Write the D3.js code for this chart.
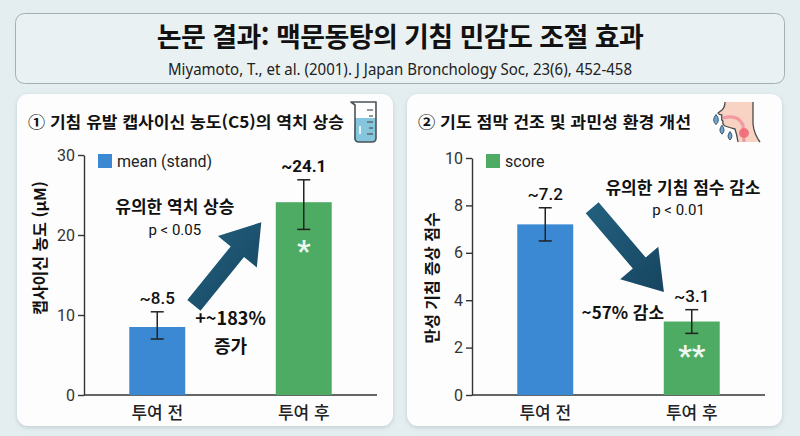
<!DOCTYPE html>
<html lang="ko">
<head>
<meta charset="UTF-8">
<script src="https://cdnjs.cloudflare.com/ajax/libs/d3/7.8.5/d3.min.js"></script>
<title>맥문동탕의 기침 민감도 조절 효과</title>
<style>
    html, body { margin: 0; padding: 0; background: #e4eef0; }
    svg { display: block; }
    .kr { font-family: "Noto Sans CJK KR", "Noto Sans", sans-serif; }
    .num { font-family: Roboto, "Noto Sans", sans-serif; }
    .axis text { font-family: Roboto, sans-serif; font-size: 16px; fill: #333; }
    .axis path, .axis line { stroke: #333; stroke-width: 1.4; }
</style>
</head>
<body>
<script>
    // 데이터
    const categories = ['투여 전', '투여 후'];
    const barColors = ['#3b89d3', '#4dab63'];

    const capsaicinMean = [8.5, 24.1];
    const capsaicinErrLow = [7.0, 20.7];
    const capsaicinErrHigh = [10.4, 26.9];
    const capsaicinLabels = ['~8.5', '~24.1'];
    const capsaicinTicks = [0, 10, 20, 30];

    const coughMean = [7.2, 3.1];
    const coughErrLow = [6.5, 2.6];
    const coughErrHigh = [7.9, 3.6];
    const coughLabels = ['~7.2', '~3.1'];
    const coughTicks = [0, 2, 4, 6, 8, 10];

    const title = '논문 결과: 맥문동탕의 기침 민감도 조절 효과';
    const subtitle = 'Miyamoto, T., et al. (2001). J Japan Bronchology Soc, 23(6), 452-458';

    const width = 800;
    const height = 436;

    const svg = d3.select('body').append('svg')
        .attr('width', width)
        .attr('height', height);

    const defs = svg.append('defs');

    const shadow = defs.append('filter').attr('id', 'shadow')
        .attr('x', '-5%').attr('y', '-5%').attr('width', '110%').attr('height', '115%');
    shadow.append('feDropShadow')
        .attr('dx', 0).attr('dy', 1.5).attr('stdDeviation', 2)
        .attr('flood-color', '#7d8f96').attr('flood-opacity', 0.35);

    const arrowGrad = defs.append('linearGradient').attr('id', 'arrowGrad')
        .attr('x1', 0).attr('y1', 0).attr('x2', 1).attr('y2', 1);
    arrowGrad.append('stop').attr('offset', '0%').attr('stop-color', '#23617f');
    arrowGrad.append('stop').attr('offset', '100%').attr('stop-color', '#164560');

    // 제목
    svg.append('rect')
        .attr('x', 15.5).attr('y', 13.5).attr('width', 769).attr('height', 70)
        .attr('rx', 9)
        .attr('fill', '#e9f1f2')
        .attr('stroke', '#a3afb4');

    svg.append('text')
        .attr('class', 'kr')
        .attr('x', 400).attr('y', 47)
        .attr('text-anchor', 'middle')
        .attr('font-size', 27)
        .attr('font-weight', 700)
        .attr('letter-spacing', -0.6)
        .attr('fill', '#111')
        .text(title);

    svg.append('text')
        .attr('x', 400).attr('y', 75)
        .attr('text-anchor', 'middle')
        .attr('font-family', '"Noto Sans", sans-serif')
        .attr('font-size', 16)
        .attr('fill', '#222')
        .attr('textLength', 464)
        .attr('lengthAdjust', 'spacingAndGlyphs')
        .text(subtitle);

    // 패널
    function drawPanel(opt) {
        const g = svg.append('g');

        g.append('rect')
            .attr('x', opt.px).attr('y', 94).attr('width', opt.pw).attr('height', 332)
            .attr('rx', 11)
            .attr('fill', '#fdfdfd')
            .attr('filter', 'url(#shadow)');

        g.append('text')
            .attr('class', 'kr')
            .attr('x', opt.px + 11).attr('y', 128)
            .attr('font-size', 16)
            .attr('font-weight', 700)
            .attr('fill', '#111')
            .attr('textLength', opt.titleLength)
            .attr('lengthAdjust', 'spacingAndGlyphs')
            .text(opt.title);

        const x = d3.scaleBand()
            .domain(categories)
            .range([opt.axisX, opt.axisX + 293])
            .paddingInner(0.618)
            .paddingOuter(0.309);

        const y = d3.scaleLinear()
            .domain([0, opt.yMax])
            .range([395, opt.yTop]);

        const step = x.step();
        const cx = function(i) { return x(categories[0]) + x.bandwidth() / 2 + i * step; };

        // 축
        g.append('g')
            .attr('class', 'axis')
            .attr('transform', 'translate(' + opt.axisX + ',0)')
            .call(d3.axisLeft(y).tickValues(opt.ticks).tickSize(6).tickSizeOuter(0).tickPadding(3));

        g.append('line')
            .attr('x1', opt.axisX).attr('x2', opt.axisX + 293)
            .attr('y1', y(0)).attr('y2', y(0))
            .attr('stroke', '#333').attr('stroke-width', 1.6);

        g.selectAll('.cat')
            .data(categories)
            .enter().append('text')
            .attr('class', 'kr')
            .attr('x', function(d) { return x(d) + x.bandwidth() / 2; })
            .attr('y', 419)
            .attr('text-anchor', 'middle')
            .attr('font-size', 17)
            .attr('font-weight', 500)
            .attr('fill', '#222')
            .text(function(d) { return d; });

        g.append('text')
            .attr('class', 'kr')
            .attr('transform', 'translate(' + opt.yTitleX + ',' + opt.yTitleY + ') rotate(-90)')
            .attr('text-anchor', 'middle')
            .attr('font-size', 16)
            .attr('font-weight', 700)
            .attr('fill', '#111')
            .text(opt.yTitle);

        // 범례
        g.append('rect')
            .attr('x', opt.axisX + 14).attr('y', 154)
            .attr('width', 14).attr('height', 14)
            .attr('fill', opt.legendColor);
        g.append('text')
            .attr('class', 'num')
            .attr('x', opt.axisX + 33).attr('y', 167)
            .attr('font-size', 16)
            .attr('fill', '#222')
            .text(opt.legend);

        // 막대
        g.selectAll('.bar')
            .data(opt.values)
            .enter().append('rect')
            .attr('x', function(d, i) { return x(categories[i]); })
            .attr('y', function(d) { return y(d); })
            .attr('width', x.bandwidth())
            .attr('height', function(d) { return y(0) - y(d); })
            .attr('fill', function(d, i) { return barColors[i]; });

        // 오차 막대
        const err = g.selectAll('.err')
            .data(opt.values)
            .enter().append('g')
            .attr('stroke', '#222')
            .attr('stroke-width', 1.5);
        err.append('line')
            .attr('x1', function(d, i) { return cx(i); })
            .attr('x2', function(d, i) { return cx(i); })
            .attr('y1', function(d, i) { return y(opt.errLow[i]); })
            .attr('y2', function(d, i) { return y(opt.errHigh[i]); });
        [opt.errLow, opt.errHigh].forEach(function(arr) {
            err.append('line')
                .attr('x1', function(d, i) { return cx(i) - 6.5; })
                .attr('x2', function(d, i) { return cx(i) + 6.5; })
                .attr('y1', function(d, i) { return y(arr[i]); })
                .attr('y2', function(d, i) { return y(arr[i]); });
        });

        // 값 라벨
        g.selectAll('.val')
            .data(opt.labels)
            .enter().append('text')
            .attr('class', 'num')
            .attr('x', function(d, i) { return cx(i); })
            .attr('y', function(d, i) { return y(opt.errHigh[i]) - 8; })
            .attr('text-anchor', 'middle')
            .attr('font-size', 17)
            .attr('font-weight', function(d, i) { return opt.boldLabel[i] ? 700 : 500; })
            .attr('fill', '#111')
            .text(function(d) { return d; });

        // 유의성 표시
        g.append('text')
            .attr('class', 'num')
            .attr('x', cx(1)).attr('y', y(opt.star[1]))
            .attr('dy', '0.55em')
            .attr('text-anchor', 'middle')
            .attr('font-size', 30)
            .attr('font-weight', 700)
            .attr('fill', '#ffffff')
            .attr('fill-opacity', 0.92)
            .text(opt.star[0]);

        // 화살표
        const a0 = [cx(opt.arrow[0][0]), y(opt.arrow[0][1])];
        const a1 = [cx(opt.arrow[1][0]), y(opt.arrow[1][1])];
        g.append('path')
            .attr('d', arrowPath(a0, a1, 17, 50, 38))
            .attr('fill', 'url(#arrowGrad)');

        // 주석
        opt.notes.forEach(function(n) {
            g.append('text')
                .attr('class', n.bold ? 'kr' : 'num')
                .attr('x', cx(n.at[0])).attr('y', y(n.at[1]))
                .attr('dy', '0.35em')
                .attr('text-anchor', 'middle')
                .attr('font-size', n.size)
                .attr('font-weight', n.bold ? 700 : 400)
                .attr('fill', '#111')
                .text(n.text);
        });

        return g;
    }

    function arrowPath(p0, p1, shaftW, headW, headL) {
        const dx = p1[0] - p0[0], dy = p1[1] - p0[1];
        const len = Math.sqrt(dx * dx + dy * dy);
        const ux = dx / len, uy = dy / len;
        const nx = -uy, ny = ux;
        const bx = p1[0] - ux * headL, by = p1[1] - uy * headL;
        const pts = [
            [p0[0] + nx * shaftW / 2, p0[1] + ny * shaftW / 2],
            [bx + nx * shaftW / 2, by + ny * shaftW / 2],
            [bx + nx * headW / 2, by + ny * headW / 2],
            p1,
            [bx - nx * headW / 2, by - ny * headW / 2],
            [bx - nx * shaftW / 2, by - ny * shaftW / 2],
            [p0[0] - nx * shaftW / 2, p0[1] - ny * shaftW / 2]
        ];
        return 'M' + pts.map(function(p) { return p[0].toFixed(1) + ',' + p[1].toFixed(1); }).join('L') + 'Z';
    }

    drawPanel({
        px: 17, pw: 376, axisX: 84,
        title: '① 기침 유발 캡사이신 농도(C5)의 역치 상승', titleLength: 316,
        yMax: 30, yTop: 155, ticks: capsaicinTicks,
        yTitle: '캡사이신 농도 (μM)', yTitleX: 46, yTitleY: 248,
        legend: 'mean (stand)', legendColor: '#3b89d3',
        values: capsaicinMean, errLow: capsaicinErrLow, errHigh: capsaicinErrHigh,
        labels: capsaicinLabels, boldLabel: [false, true],
        star: ['*', 18.8],
        arrow: [[0.25, 11.2], [0.71, 21.6]],
        notes: [
            {text: '유의한 역치 상승', at: [0.12, 23.5], size: 17, bold: true},
            {text: 'p < 0.05', at: [0.12, 20.6], size: 15, bold: false},
            {text: '+~183%', at: [0.5, 9.5], size: 18, bold: true},
            {text: '증가', at: [0.5, 6.1], size: 18, bold: true}
        ]
    });

    drawPanel({
        px: 407, pw: 375, axisX: 472,
        title: '② 기도 점막 건조 및 과민성 환경 개선', titleLength: 273,
        yMax: 10, yTop: 158, ticks: coughTicks,
        yTitle: '만성 기침 증상 점수', yTitleX: 438, yTitleY: 278,
        legend: 'score', legendColor: '#4dab63',
        values: coughMean, errLow: coughErrLow, errHigh: coughErrHigh,
        labels: coughLabels, boldLabel: [false, false],
        star: ['**', 1.9],
        arrow: [[0.32, 7.9], [0.81, 4.35]],
        notes: [
            {text: '유의한 기침 점수 감소', at: [0.94, 8.73], size: 17, bold: true},
            {text: 'p < 0.01', at: [0.91, 7.8], size: 15, bold: false},
            {text: '~57% 감소', at: [0.53, 3.46], size: 17, bold: true}
        ]
    });

    // 아이콘: 비커
    const beaker = svg.append('g').attr('transform', 'translate(351,100)');
    beaker.append('path')
        .attr('d', 'M4,18 L25,18 L25,38 Q25,42 21,42 L7,42 Q3,42 3,38 Z')
        .attr('fill', '#86c6dc');
    beaker.append('path')
        .attr('d', 'M0,2 L4,5 L4,38 Q4,42 8,42 L21,42 Q25,42 25,38 L25,2 Z')
        .attr('fill', 'none').attr('stroke', '#4a5256').attr('stroke-width', 1.6)
        .attr('stroke-linejoin', 'round');
    beaker.selectAll('.mark')
        .data([10, 16, 22, 28, 34])
        .enter().append('line')
        .attr('x1', function(d, i) { return i % 2 ? 18 : 16; }).attr('x2', 22)
        .attr('y1', function(d) { return d; }).attr('y2', function(d) { return d; })
        .attr('stroke', '#4a5256').attr('stroke-width', 1.2);
    beaker.append('line')
        .attr('x1', 9).attr('x2', 9).attr('y1', 26).attr('y2', 34)
        .attr('stroke', '#ffffff').attr('stroke-width', 1.6);

    // 아이콘: 목 옆모습
    const face = svg.append('g').attr('transform', 'translate(712,102)');
    face.append('path')
        .attr('d', 'M13,0 Q13,5 10,8 L6,11 Q7,13 10,13 Q9,15 10,16 Q9,18 11,19 Q10,22 13,24 Q19,26 23,27 Q25,33 26,40 L48,40 Q42,32 41,22 L41,0 Z')
        .attr('fill', '#f8d3c4');
    face.append('path')
        .attr('d', 'M13,0 Q13,5 10,8 L6,11 Q7,13 10,13 Q9,15 10,16 Q9,18 11,19 Q10,22 13,24 Q19,26 23,27 Q25,33 26,40')
        .attr('fill', 'none').attr('stroke', '#4a4a4a').attr('stroke-width', 1.3).attr('stroke-linejoin', 'round');
    face.append('path')
        .attr('d', 'M41,0 L41,22 Q42,32 48,40')
        .attr('fill', 'none').attr('stroke', '#4a4a4a').attr('stroke-width', 1.3);
    face.append('path')
        .attr('d', 'M11,16 Q26,12 31,23 L32,40')
        .attr('fill', 'none').attr('stroke', '#f19aa3').attr('stroke-width', 3.2);
    face.append('circle').attr('cx', 32).attr('cy', 31).attr('r', 5).attr('fill', '#f06a78').attr('fill-opacity', 0.9);
    [[4, 19, 3.6], [10, 29, 3.2], [18, 35, 3.0]].forEach(function(d) {
        face.append('path')
            .attr('d', 'M' + d[0] + ',' + (d[1] - d[2] * 1.8) + ' Q' + (d[0] + d[2] * 1.3) + ',' + (d[1] - 0.2 * d[2]) + ' ' + d[0] + ',' + (d[1] + d[2]) +
                ' Q' + (d[0] - d[2] * 1.3) + ',' + (d[1] - 0.2 * d[2]) + ' ' + d[0] + ',' + (d[1] - d[2] * 1.8) + ' Z')
            .attr('fill', '#6aa6d6').attr('stroke', '#3d5566').attr('stroke-width', 1);
    });
</script>
</body>
</html>
